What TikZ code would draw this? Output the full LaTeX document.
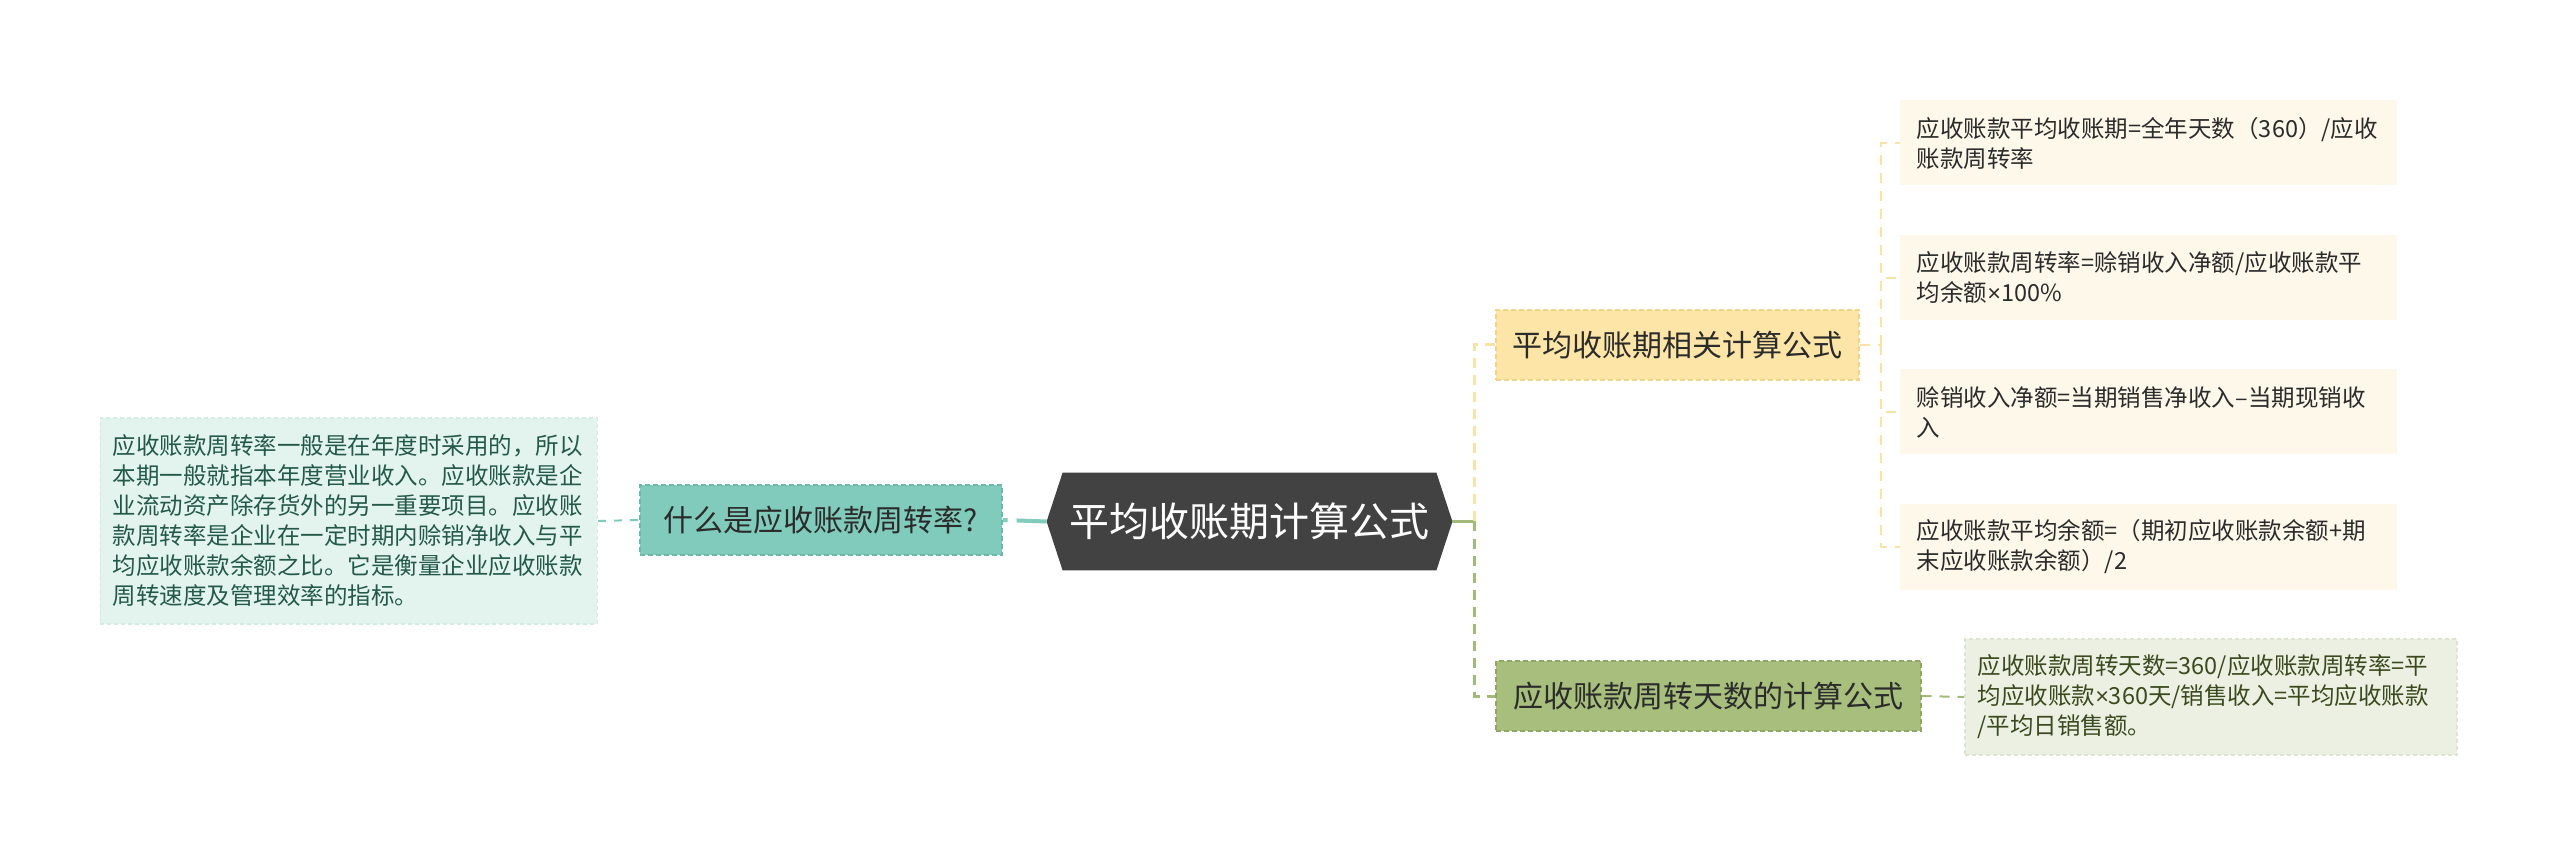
\documentclass[tikz,border=0pt]{standalone}
\usepackage{fontspec}
\setmainfont{Noto Sans CJK SC}
\newfontfamily\latinf{Liberation Sans}
\usetikzlibrary{backgrounds}
\definecolor{lboxfill}{HTML}{E3F4EF}
\definecolor{lboxdraw}{HTML}{D2ECE5}
\definecolor{lboxtext}{HTML}{24594A}
\definecolor{qfill}{HTML}{80CBBB}
\definecolor{qdraw}{HTML}{6CB8A7}
\definecolor{hexfill}{HTML}{424242}
\definecolor{yfill}{HTML}{FDE5A7}
\definecolor{ydraw}{HTML}{F2D38C}
\definecolor{gfill}{HTML}{A7BE7D}
\definecolor{gdraw}{HTML}{8FA666}
\definecolor{yleaf}{HTML}{FDF8EA}
\definecolor{gleaf}{HTML}{EBF0E2}
\definecolor{gleafdraw}{HTML}{DCE4CF}
\definecolor{gleaftext}{HTML}{3A4A1E}
\definecolor{ylink}{HTML}{F7E2A8}
\definecolor{glink}{HTML}{A3B97A}
\definecolor{txt}{HTML}{2B2B2B}
\newcommand{\tms}{{\latinf ×}}
\begin{document}
\begin{tikzpicture}[x=0.5pt,y=-0.5pt,
  small/.style={font=\fontsize{11.75}{15}\selectfont},
  mid/.style={font=\fontsize{15}{18}\selectfont, text=txt, minimum height=35pt, inner xsep=0pt},
  leafbox/.style={small, align=left, inner ysep=0pt, minimum height=42.5pt, anchor=west},
  lbox/.style={leafbox, fill=lboxfill, draw=lboxdraw, line width=0.75pt, dash pattern=on 2pt off 1.5pt, text=lboxtext, text width=236pt, inner xsep=6.25pt, minimum height=103pt, anchor=east},
  qbox/.style={mid, fill=qfill, draw=qdraw, line width=0.75pt, dash pattern=on 2.5pt off 1.5pt, minimum width=181pt},
  ybox/.style={mid, fill=yfill, draw=ydraw, line width=0.75pt, dash pattern=on 2.5pt off 1.5pt, minimum width=181.5pt, anchor=west},
  gbox/.style={mid, fill=gfill, draw=gdraw, line width=0.75pt, dash pattern=on 2.5pt off 1.5pt, minimum width=212.5pt, anchor=west},
  yleafbox/.style={leafbox, fill=yleaf, text=txt, text width=232pt, inner xsep=8.25pt},
  gleafbox/.style={leafbox, fill=gleaf, draw=gleafdraw, line width=0.75pt, dash pattern=on 2pt off 1.5pt, text=gleaftext, text width=233pt, inner xsep=6.5pt, minimum height=58pt},
  lconn/.style={draw=qfill, line width=1pt, dash pattern=on 4pt off 4pt},
  qconn/.style={draw=qfill, line width=2pt, dash pattern=on 15pt off 4.5pt},
  gsolid/.style={draw=glink, line width=1.5pt},
  ytrunk/.style={draw=ylink, line width=1.5pt, dash pattern=on 5pt off 3.5pt},
  gtrunk/.style={draw=glink, line width=1.5pt, dash pattern=on 5pt off 3.5pt},
  ylinkst/.style={draw=ylink, line width=1pt, dash pattern=on 5pt off 4pt},
  glinkst/.style={draw=glink, line width=1pt, dash pattern=on 5pt off 4pt}
]
\useasboundingbox (0,0) rectangle (2560,855);

% root
\node[font=\fontsize{20}{24}\selectfont, text=white, minimum width=202.5pt, minimum height=48.5pt, inner sep=0pt] (root) at (1249.5,521.5) {平均收账期计算公式};

% left branch
\node[qbox] (q) at (821,520) {什么是应收账款周转率?};
\node[lbox] (lb) at (598,521) {应收账款周转率一般是在年度时采用的，所以\\本期一般就指本年度营业收入。应收账款是企\\业流动资产除存货外的另一重要项目。应收账\\款周转率是企业在一定时期内赊销净收入与平\\均应收账款余额之比。它是衡量企业应收账款\\周转速度及管理效率的指标。};

% right branches
\node[ybox] (y) at (1495,345) {平均收账期相关计算公式};
\node[gbox] (g) at (1495,696) {应收账款周转天数的计算公式};

\node[yleafbox] (l1) at (1900,143) {应收账款平均收账期=全年天数（360）/应收\\账款周转率};
\node[yleafbox] (l2) at (1900,278) {应收账款周转率=赊销收入净额/应收账款平\\均余额\tms100\%};
\node[yleafbox] (l3) at (1900,412) {赊销收入净额=当期销售净收入–当期现销收\\入};
\node[yleafbox] (l4) at (1900,547) {应收账款平均余额=（期初应收账款余额+期\\末应收账款余额）/2};

\node[gleafbox] (gl) at (1964,697) {应收账款周转天数=360/应收账款周转率=平\\均应收账款\tms360天/销售收入=平均应收账款\\/平均日销售额。};

% background: page, hexagon, connectors
\begin{scope}[on background layer]
\fill[white] (0,0) rectangle (2560,855);
\fill[hexfill] (root.west) -- ([xshift=8pt]root.north west) -- ([xshift=-8pt]root.north east) -- (root.east) -- ([xshift=-8pt]root.south east) -- ([xshift=8pt]root.south west) -- cycle;
\draw[lconn] (lb.east) -- (q.west);
\draw[qconn] (root.west) -- (q.east);
\coordinate (tr) at (1474,521.5);
\draw[gsolid] (root.east) -- (tr);
\draw[ytrunk] (tr) |- (y.west);
\draw[gtrunk] (tr) |- (g.west);
\coordinate (yt) at (1881,345);
\draw[ylinkst] (y.east) -- (yt);
\draw[ylinkst] (yt) |- (l1.west);
\draw[ylinkst] (yt) |- (l2.west);
\draw[ylinkst] (yt) |- (l3.west);
\draw[ylinkst] (yt) |- (l4.west);
\draw[glinkst] (g.east) -- (gl.west);
\end{scope}
\end{tikzpicture}
\end{document}
